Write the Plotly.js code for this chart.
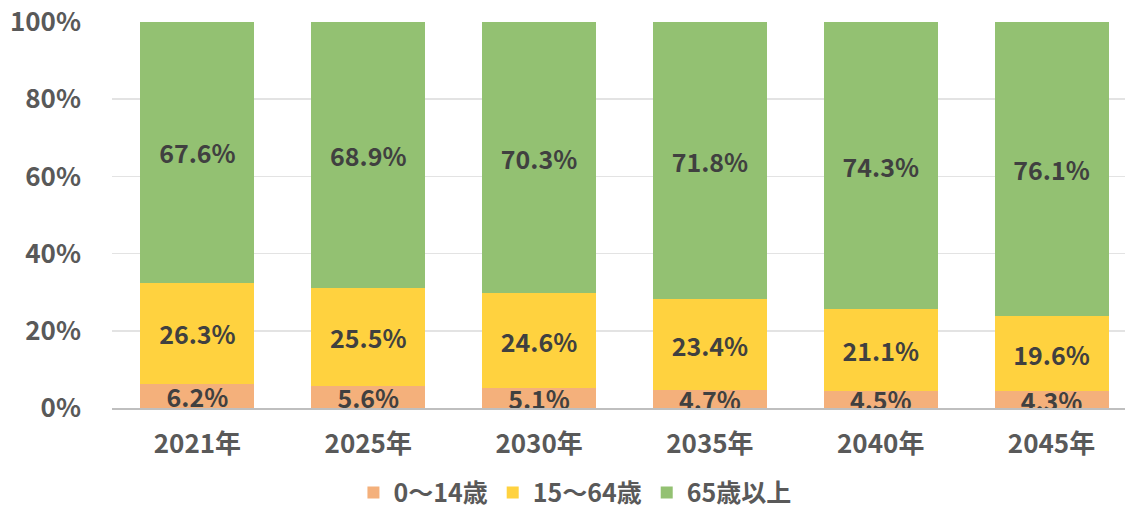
<!DOCTYPE html>
<html><head><meta charset="utf-8">
<script src="https://cdn.plot.ly/plotly-3.0.1.min.js"></script>
<style>html,body{margin:0;padding:0;background:#fff}#chart{width:1134px;height:508px}</style>
</head><body><div id="chart"></div>
<script>
const categories = ['2021年','2025年','2030年','2035年','2040年','2045年'];
const seriesNames = ['0～14歳','15～64歳','65歳以上'];
const age0to14 = [6.2, 5.6, 5.1, 4.7, 4.5, 4.3];
const age15to64 = [26.3, 25.5, 24.6, 23.4, 21.1, 19.6];
const age65plus = [67.6, 68.9, 70.3, 71.8, 74.3, 76.1];
const colors = ['#F4B07B', '#FFD23F', '#93C172'];

const fam = '"Noto Sans CJK JP", "Noto Sans", sans-serif';
const series = [age0to14, age15to64, age65plus];
const traces = series.map((vals, i) => ({
  type: 'bar',
  name: seriesNames[i],
  x: categories,
  y: vals,
  text: vals.map(v => v.toFixed(1) + '%'),
  textposition: 'inside',
  insidetextanchor: 'middle',
  constraintext: 'none',
  textangle: 0,
  textfont: {family: fam, size: 25, color: '#404040', weight: 'bold'},
  marker: {color: colors[i], line: {width: 0}},
  hoverinfo: 'none'
}));

const layout = {
  width: 1134, height: 508,
  margin: {l: 111.5, r: 8.5, t: 22, b: 100},
  barmode: 'stack',
  barnorm: 'percent',
  bargap: 0.333,
  paper_bgcolor: '#fff', plot_bgcolor: '#fff',
  font: {family: fam, color: '#595959'},
  xaxis: {
    range: [-0.5, 5.43],
    automargin: false,
    showgrid: false,
    showline: true, linecolor: '#BFBFBF', linewidth: 2,
    ticks: '', ticklabelstandoff: 12,
    tickfont: {family: fam, size: 26, color: '#595959', weight: 'bold'},
    fixedrange: true
  },
  yaxis: {
    range: [0, 100], dtick: 20, ticksuffix: '%',
    automargin: false,
    showgrid: true, gridcolor: '#E3E3E3', gridwidth: 1.5,
    zeroline: false, showline: false, ticks: '',
    ticklabelstandoff: 30,
    tickfont: {family: fam, size: 26, color: '#595959', weight: 'bold'},
    fixedrange: true
  },
  showlegend: true,
  legend: {
    orientation: 'h', xref: 'container', yref: 'container',
    x: 0.507, xanchor: 'center', y: 0.03, yanchor: 'middle',
    font: {family: fam, size: 25, color: '#595959', weight: 'bold'},
    traceorder: 'normal', itemclick: false, itemwidth: 20
  }
};
Plotly.newPlot('chart', traces, layout, {displayModeBar: false, staticPlot: true});
</script></body></html>
